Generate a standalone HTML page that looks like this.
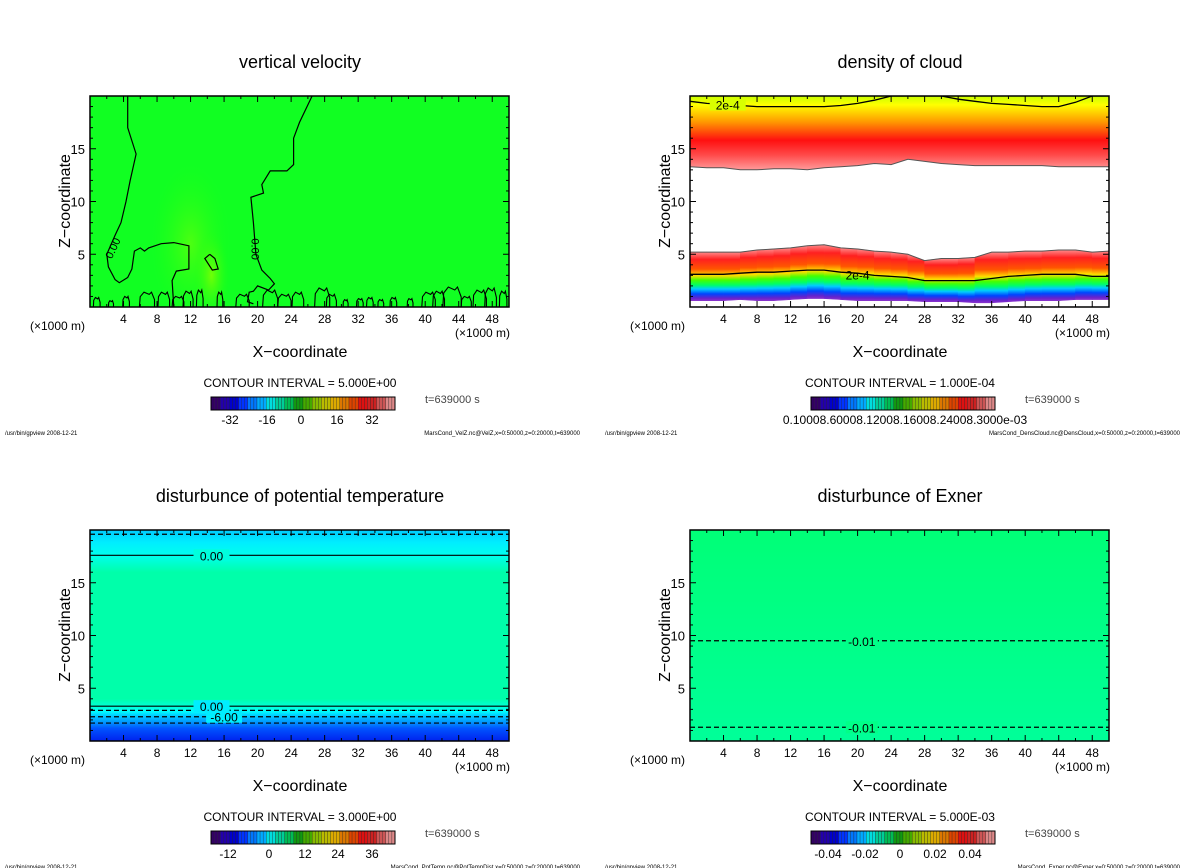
<!DOCTYPE html>
<html><head><meta charset="utf-8"><style>
html,body{margin:0;padding:0;background:#fff;}
svg{display:block;font-family:"Liberation Sans",sans-serif;}
</style></head><body>
<svg id="fig" xmlns="http://www.w3.org/2000/svg" width="1200" height="868" viewBox="0 0 1200 868"></svg>
<script>
// ---- data ----
const xTicks=[4,8,12,16,20,24,28,32,36,40,44,48];
const zTicks=[5,10,15];
const cloudX=[0,2,4,6,8,10,12,14,16,18,20,22,24,26,28,30,32,34,36,38,40,42,44,46,48,50];
const cloudUpperBottom=[13.3,13.2,13.2,13.0,13.0,13.1,13.1,13.0,13.2,13.3,13.4,13.6,13.5,14.0,13.8,13.6,13.5,13.4,13.4,13.4,13.4,13.4,13.3,13.3,13.3,13.3];
const cloudLowerTop=[5.2,5.2,5.2,5.2,5.4,5.5,5.6,5.8,5.9,5.6,5.5,5.3,5.2,5.0,4.4,4.6,4.6,4.7,5.2,5.2,5.3,5.3,5.4,5.4,5.2,5.3];
const cloudContourLow=[3.1,3.1,3.1,3.2,3.3,3.3,3.4,3.5,3.5,3.3,3.2,3.0,2.9,2.8,2.5,2.5,2.5,2.5,2.7,2.9,3.0,3.1,3.1,3.1,2.9,2.9];
const cloudLowerBottom=[0.6,0.6,0.6,0.7,0.6,0.6,0.7,0.8,0.8,0.7,0.6,0.6,0.6,0.6,0.5,0.5,0.5,0.4,0.4,0.5,0.6,0.6,0.6,0.7,0.7,0.7];
const cloudContourTop=[19.5,19.3,19.2,19.1,19.0,19.0,19.0,19.0,19.0,19.1,19.3,19.6,20,20,20,20,19.7,19.5,19.3,19.2,19.1,19.0,19.0,19.4,20,20];
const velLeftContour=[[4.5,20],[4.5,17],[5.5,14.5],[4.8,12],[4.3,10],[3.7,8],[3,6.8],[2,5],[2.2,3.8],[3,2.6],[3.5,2.3],[4.5,2.8],[5,3.6],[5.3,5.3],[6,5.6],[6.5,5.3],[7,5.6],[8.5,6],[10,6.1],[11.8,5.8],[11.8,3.6],[10.3,3.4],[9.8,2.5],[10,0]];
const velRightContour=[[26.5,20],[25,17.5],[24.3,16],[24.3,13.5],[23.5,12.9],[21.5,12.9],[20.5,11.6],[20.7,10.8],[19.2,10.4],[19.5,8],[19.8,5],[20.5,3.5],[21.5,2.7],[22,2.2],[21.3,1.6],[20,2],[19.5,1.5],[19,1.4],[18.8,0.5],[19.5,0.3]];
const velBlob=[[14.3,5],[13.7,4.6],[14.6,3.5],[15.3,3.6],[14.9,4.6],[14.3,5]];
const velBumpX=[0.8,2.5,4.3,6.8,8.8,10.5,11.7,13.1,15.5,18.2,21.5,23.2,24.8,27.7,28.8,30.5,32.2,33.4,34.7,36.2,38.2,40.4,41.6,43.2,44.9,46.5,47.8,49.3];
const velBumpH=[0.9,0.6,1.0,1.4,1.4,1.0,1.5,1.6,1.4,1.2,1.6,1.2,1.4,1.8,1.2,0.7,0.8,0.9,0.7,0.9,0.8,1.4,1.5,1.9,1.0,1.6,1.8,1.5];
const velBumpW=[0.8,0.6,0.8,1.8,1.4,1.4,1.2,0.8,0.7,1.6,1.8,1.6,1.4,1.8,1.2,0.6,0.8,0.8,0.7,0.8,0.7,1.6,1.4,2.2,1.2,1.6,1.4,0.9];
const potSolid=[17.6,3.3];
const potDashed=[19.6,2.9,2.3,1.7];
const potLabels=[[17.6,"0.00"],[3.3,"0.00"],[2.3,"-6.00"]];
const exnerDashed=[9.5,1.3];
const cb1Labels=[["-32",230],["-16",267],["0",301],["16",337],["32",372]];
const cb3Labels=[["-12",228],["0",269],["12",305],["24",338],["36",372]];
const cb4Labels=[["-0.04",228],["-0.02",265],["0",300],["0.02",335],["0.04",370]];

const NS="http://www.w3.org/2000/svg";
const svg=document.getElementById('fig');
function el(tag,attrs,parent,text){const e=document.createElementNS(NS,tag);for(const k in attrs)e.setAttribute(k,attrs[k]);if(text!==undefined)e.textContent=text;(parent||svg).appendChild(e);return e;}
const defs=el('defs',{});
function grad(id,stops){const g=el('linearGradient',{id:id,x1:0,y1:0,x2:0,y2:1},defs);stops.forEach(s=>el('stop',{offset:s[0],'stop-color':s[1]},g));}
grad('gUp',[[0,'#c8ff00'],[0.12,'#ffff00'],[0.35,'#ff9900'],[0.6,'#ff1010'],[0.8,'#ff4a4a'],[1,'#ff9a9a']]);
grad('gLow',[[0,'#ff8a8a'],[0.15,'#ff2020'],[0.35,'#ff5500'],[0.48,'#ffdd00'],[0.58,'#44ff00'],[0.68,'#00ff66'],[0.76,'#00ccff'],[0.86,'#0044ff'],[0.95,'#6622cc'],[1,'#8833cc']]);
grad('gPot',[[0,'#00ccff'],[0.06,'#00eeff'],[0.12,'#00ffee'],[0.2,'#00ffaa'],[0.8,'#00ffaa'],[0.84,'#00ffdd'],[0.86,'#00ffff'],[0.88,'#00ccff'],[0.91,'#0099ff'],[0.94,'#0055ff'],[1,'#0022ee']]);
grad('gExn',[[0,'#00ff77'],[0.5,'#00ff88'],[1,'#00ff99']]);
const rg=el('radialGradient',{id:'gBlob',cx:0.5,cy:0.5,r:0.5},defs);
el('stop',{offset:0,'stop-color':'#88ff00'},rg);el('stop',{offset:1,'stop-color':'#22ff11','stop-opacity':0},rg);

const W=419,H=211;
function makePanel(ox,oy,o){
  const g=el('g',{});
  
  
  const x0=ox+90,top=oy+96;
  const sx=x=>x0+x/50*W, sz=z=>top+H-z/20*H;
  const cid='clip'+ox+'_'+oy;
  const cp=el('clipPath',{id:cid},defs);el('rect',{x:x0,y:top,width:W,height:H},cp);
  const plot=el('g',{'clip-path':'url(#'+cid+')'},g);
  
  
  o.draw(plot,sx,sz,x0,top);
  el('rect',{x:x0,y:top,width:W,height:H,fill:'none',stroke:'#000','stroke-width':1.5},g);
  for(let x=2;x<50;x+=2){const L=(x%4===0)?6:3;
    el('line',{x1:sx(x),x2:sx(x),y1:top+H,y2:top+H-L,stroke:'#000'},g);
    el('line',{x1:sx(x),x2:sx(x),y1:top,y2:top+L,stroke:'#000'},g);}
  for(let z=1;z<20;z++){const L=(z%5===0)?6:3;
    el('line',{x1:x0,x2:x0+L,y1:sz(z),y2:sz(z),stroke:'#000'},g);
    el('line',{x1:x0+W,x2:x0+W-L,y1:sz(z),y2:sz(z),stroke:'#000'},g);}
  xTicks.forEach(x=>{const t=el('text',{x:sx(x),y:oy+323,'text-anchor':'middle','font-size':12},g,String(x));});
  zTicks.forEach(z=>{const t=el('text',{x:ox+85,y:sz(z)+5,'text-anchor':'end','font-size':13},g,String(z));});
  let t=el('text',{x:ox+300,y:oy+68,'text-anchor':'middle','font-size':18},g,o.title);
  t=el('text',{x:0,y:0,'text-anchor':'middle','font-size':16,transform:`translate(${ox+70},${oy+201}) rotate(-90)`},g,'Z\u2212coordinate');
  t=el('text',{x:ox+300,y:oy+357,'text-anchor':'middle','font-size':16},g,'X\u2212coordinate');
  t=el('text',{x:ox+30,y:oy+330,'font-size':12},g,'(\u00d71000 m)');
  t=el('text',{x:ox+455,y:oy+337,'font-size':12},g,'(\u00d71000 m)');
  t=el('text',{x:ox+300,y:oy+387,'text-anchor':'middle','font-size':12},g,'CONTOUR INTERVAL = '+o.ci);
  const cb=el('g',{},g);
  const pal=['#330066','#2200aa','#0000cc','#0033ff','#0077ff','#00aaff','#00dddd','#00cc99','#00bb55','#119911','#44aa00','#88bb00','#bbbb00','#ddaa00','#dd7700','#dd4400','#dd1111','#cc2222','#cc5555','#dd8888'];
  const n=60,cw=184/n;
  for(let i=0;i<n;i++){const c=pal[Math.floor(i/n*pal.length)];el('rect',{x:ox+211+i*cw,y:oy+397,width:cw,height:13,fill:c,stroke:'#222','stroke-width':0.3},cb);}
  el('rect',{x:ox+211,y:oy+397,width:184,height:13,fill:'none',stroke:'#000'},cb);
  o.cbLabels.forEach(l=>{const tt=el('text',{x:ox+l[1],y:oy+424,'text-anchor':'middle','font-size':12},cb,l[0]);});
  t=el('text',{x:ox+425,y:oy+403,'font-size':11,fill:'#444'},g,'t=639000 s');
  t=el('text',{x:ox+5,y:oy+435,'font-size':6},g,'/usr/bin/gpview   2008-12-21');
  t=el('text',{x:ox+580,y:oy+435,'font-size':6,'text-anchor':'end'},g,o.foot);
}
function poly(pts,sx,sz){return pts.map((p,i)=>(i?'L':'M')+sx(p[0]).toFixed(1)+' '+sz(p[1]).toFixed(1)).join(' ');}
function hline(p,sx,sz,z,dash){
  el('line',{x1:sx(0),x2:sx(50),y1:sz(z),y2:sz(z),stroke:'#000','stroke-width':1.2,'stroke-dasharray':dash?'5,3':'none'},p);
}

// Panel 1: vertical velocity
makePanel(0,0,{name:'vertical-velocity-panel',title:'vertical velocity',ci:'5.000E+00',cbLabels:cb1Labels,foot:'MarsCond_VelZ.nc@VelZ,x=0:50000,z=0:20000,t=639000',
 draw:(p,sx,sz,x0,top)=>{
  el('rect',{x:x0,y:top,width:W,height:H,fill:'#11ff22'},p);
  el('ellipse',{cx:sx(12),cy:sz(6),rx:40,ry:80,fill:'url(#gBlob)',opacity:0.5},p);
  el('ellipse',{cx:sx(14.5),cy:sz(3),rx:18,ry:45,fill:'url(#gBlob)',opacity:0.8},p);
  [velLeftContour,velRightContour,velBlob].forEach(c=>{const pa=el('path',{d:poly(c,sx,sz),fill:'none',stroke:'#000','stroke-width':1.2},p);});
  velBumpX.forEach((x,i)=>{
    const w=velBumpW[i]/2,h=velBumpH[i];
    const pts=[[x-w,0],[x-w*0.9,h*0.7],[x-w*0.4,h],[x+w*0.3,h*0.85],[x+w*0.6,h],[x+w,h*0.5],[x+w,0]];
    const b=el('path',{d:poly(pts,sx,sz),fill:'none',stroke:'#000','stroke-width':1.1},p);
    
    
  });
  el('text',{x:0,y:0,'font-size':11,transform:`translate(${sx(2.6)},${sz(4.5)}) rotate(-65)`},p,'0.00');
  el('text',{x:0,y:0,'font-size':11,transform:`translate(${sx(19.3)},${sz(6.5)}) rotate(90)`},p,'0.00');
 }});

// Panel 2: density of cloud
makePanel(600,0,{name:'cloud-density-panel',title:'density of cloud',ci:'1.000E-04',cbLabels:[['0.10008.60008.12008.16008.24008.3000e-03',305]],foot:'MarsCond_DensCloud.nc@DensCloud,x=0:50000,z=0:20000,t=639000',
 draw:(p,sx,sz,x0,top)=>{
  el('rect',{x:x0,y:top,width:W,height:H,fill:'#fff'},p);
  let d='M'+sx(0)+' '+sz(20);d+=' L'+sx(50)+' '+sz(20);
  for(let i=cloudX.length-1;i>=0;i--)d+=' L'+sx(cloudX[i]).toFixed(1)+' '+sz(cloudUpperBottom[i]).toFixed(1);
  let pa=el('path',{d:d+' Z',fill:'url(#gUp)',stroke:'#555','stroke-width':1},p);
  for(let i=0;i<cloudX.length-1;i++){
    const a=cloudX[i],b=cloudX[i+1];
    const d2=`M${sx(a)} ${sz(cloudLowerTop[i])} L${sx(b)} ${sz(cloudLowerTop[i+1])} L${sx(b)} ${sz(cloudLowerBottom[i+1])} L${sx(a)} ${sz(cloudLowerBottom[i])} Z`;
    const s=el('path',{d:d2,fill:'url(#gLow)',stroke:'url(#gLow)','stroke-width':0.6},p);
  }
  el('path',{d:poly(cloudX.map((x,i)=>[x,cloudLowerTop[i]]),sx,sz),fill:'none',stroke:'#555'},p);
  el('path',{d:poly(cloudX.map((x,i)=>[x,cloudContourLow[i]]),sx,sz),fill:'none',stroke:'#000','stroke-width':1.3},p);
  el('path',{d:poly(cloudX.map((x,i)=>[x,cloudContourTop[i]]),sx,sz),fill:'none',stroke:'#000','stroke-width':1.3},p);
  el('rect',{x:sx(4.5)-18,y:sz(19.2)-6,width:36,height:12,fill:'#d8ff00'},p);
  el('text',{x:sx(4.5),y:sz(19.2)+5,'text-anchor':'middle','font-size':12},p,'2e-4');
  el('text',{x:sx(20),y:sz(3.1)+5,'text-anchor':'middle','font-size':12},p,'2e-4');
 }});

// Panel 3: potential temperature
makePanel(0,434,{name:'potential-temperature-panel',title:'disturbunce of potential temperature',ci:'3.000E+00',cbLabels:cb3Labels,foot:'MarsCond_PotTemp.nc@PotTempDist,x=0:50000,z=0:20000,t=639000',
 draw:(p,sx,sz,x0,top)=>{
  el('rect',{x:x0,y:top,width:W,height:H,fill:'url(#gPot)'},p);
  potDashed.forEach(z=>hline(p,sx,sz,z,true));
  potSolid.forEach(z=>hline(p,sx,sz,z,false));
  potLabels.forEach(l=>{const xm=sx(l[1].length>4?16:14.5);el('rect',{x:xm-18,y:sz(l[0])-6,width:36,height:12,fill:l[0]>10?'#00ffdd':'#00eeff'},p);el('text',{x:xm,y:sz(l[0])+5,'text-anchor':'middle','font-size':12},p,l[1]);});
 }});

// Panel 4: Exner
makePanel(600,434,{name:'exner-panel',title:'disturbunce of Exner',ci:'5.000E-03',cbLabels:cb4Labels,foot:'MarsCond_Exner.nc@Exner,x=0:50000,z=0:20000,t=639000',
 draw:(p,sx,sz,x0,top)=>{
  el('rect',{x:x0,y:top,width:W,height:H,fill:'url(#gExn)'},p);
  exnerDashed.forEach(z=>{hline(p,sx,sz,z,true);const xm=sx(20.5);el('rect',{x:xm-16,y:sz(z)-6,width:32,height:12,fill:'#00ff88'},p);el('text',{x:xm,y:sz(z)+5,'text-anchor':'middle','font-size':12},p,'-0.01');});
 }});
</script>
</body></html>
